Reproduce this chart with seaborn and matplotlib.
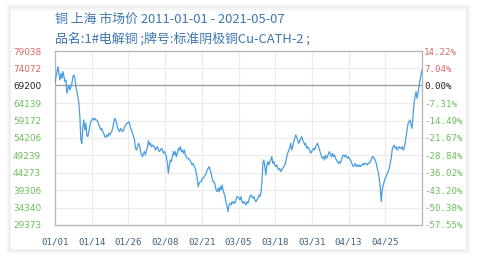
import matplotlib
matplotlib.use("Agg")
import matplotlib.pyplot as plt
from matplotlib.patches import Rectangle
import numpy as np
import pandas as pd
import seaborn as sns

title_line1 = "铜 上海 市场价 2011-01-01 - 2021-05-07"
title_line2 = "品名:1#电解铜 ;牌号:标准阴极铜Cu-CATH-2 ;"

base_price = 69200
left_ticks = [79038, 74072, 69200, 64139, 59172, 54206, 49239, 44273, 39306, 34340, 29373]
right_labels = ["14.22%", "7.04%", "0.00%", "-7.31%", "-14.49%", "-21.67%",
                "-28.84%", "-36.02%", "-43.20%", "-50.38%", "-57.55%"]
x_labels = ["01/01", "01/14", "01/26", "02/08", "02/21", "03/05", "03/18", "03/31", "04/13", "04/25"]

prices_a = [69810, 71710, 73140, 74570, 72190, 70760, 72660, 71240, 73140, 71710, 70290, 70760,
            66960, 68380, 69330, 67910, 68860, 69810, 71710, 72190, 71240, 68860, 67430, 66000,
            64100, 60300, 53640, 52690, 57440, 59350, 56490, 58390, 55070, 54590, 56020, 57440,
            58870, 59350, 59820, 59350, 59820, 59350, 59350, 58870, 57920, 57440, 56490, 56970,
            56020, 55540, 54590, 54400, 55070, 54590, 55540, 55070, 55540, 56020, 56970, 58390,
            59820, 59350, 58390, 56970, 56490, 56020, 56970, 56490, 56020, 56490, 57440, 57920,
            58390, 58390, 58870, 58390, 56970, 56490, 55540, 54590, 53640, 51260, 50780, 51740,
            52690, 52210, 50310, 49360, 48880, 49830, 50310, 49360, 50780, 51740]
prices_b = [53450, 52210, 52690, 51740, 52210, 51740, 51740, 50780, 51260, 51740, 50780, 50310,
            50780, 51260, 50780, 49830, 50310, 49830, 48880, 46980, 44130, 46500, 47930, 47460,
            48880, 50310, 49360, 50310, 48880, 49830, 51260, 50780, 51740, 50310, 50780, 49830,
            50780, 49360, 48880, 48410, 48410, 47930, 47930, 46980, 46500, 46980, 46030, 45550,
            44130, 42700, 40320, 41270, 41750, 41750, 42700, 42700, 43170, 43650, 44130, 45080,
            45550, 46030, 45080, 44130, 42700, 41750, 41750, 40800, 39370, 38890, 39840, 38890,
            40320, 39370, 40800, 39370, 38420, 37470, 35560, 34610, 33190, 35090, 35560, 35090,
            36040, 35560, 36040, 35560, 36520, 37470, 37470, 36990]
prices_c = [36520, 37470, 36040, 35560, 36040, 35560, 35090, 36040, 35560, 36520, 37470, 37940,
            37470, 36990, 37470, 36520, 36040, 36520, 36990, 37940, 37470, 38420, 41270, 46980,
            47930, 46030, 43650, 46500, 47460, 46500, 47460, 47930, 48880, 46980, 47460, 46500,
            46030, 46500, 45550, 45080, 45550, 44600, 45080, 45550, 46030, 46500, 47460, 48880,
            49830, 50780, 51260, 52690, 50780, 51740, 53160, 54110, 55070, 54590, 53640, 52690,
            53160, 54110, 54590, 53640, 53160, 52210, 52690, 51260, 51740, 51260, 50780, 49830,
            50310, 50780, 51260, 50780, 51740, 52210, 52690, 51740, 50780, 49830, 48880, 48410,
            48880, 47930, 49360, 48410, 48880, 49830, 50310, 49360, 48880]
prices_d = [49830, 48880, 49360, 48410, 47930, 47460, 46980, 47460, 46980, 47930, 48880, 49360,
            48880, 49360, 48880, 48410, 48880, 48410, 47930, 47460, 46500, 46030, 46500, 46980,
            46030, 46500, 46030, 46500, 46030, 46500, 46500, 46980, 46500, 46980, 46980, 46500,
            46980, 46980, 47460, 47930, 48880, 48880, 48410, 47930, 46980, 45550, 44600, 42700,
            40320, 36040, 39370, 40800, 41750, 42700, 43170, 44130, 44600, 45550, 46980, 48410,
            50780, 51740, 52210, 51260, 51740, 50780, 51260, 51740, 51260, 51260, 51740, 50780,
            51260, 52690, 54590, 56490, 58390, 58870, 59350, 57920, 56970, 60770, 64100, 66000,
            67430, 65530, 66960, 68860, 70760, 72190, 73620]

prices = prices_a + prices_b + prices_c + prices_d
df = pd.DataFrame({"idx": np.arange(len(prices)), "price": prices})

sns.set_style("white")
plt.rcParams['font.family'] = ['Noto Sans CJK SC', 'DejaVu Sans']

W, H = 482, 261
fig = plt.figure(figsize=(W / 100, H / 100), dpi=100)
fig.patch.set_facecolor("white")

# card with soft shadow
for i, a in enumerate([0.012, 0.02, 0.03, 0.04]):
    off = (4 - i)
    fig.patches.append(Rectangle(((10 - off + 1) / W, (261 - 249 - off) / H),
                                 (455 + 2 * off) / W, (240 + 2 * off) / H,
                                 transform=fig.transFigure, facecolor="none",
                                 edgecolor=(0, 0, 0, a), linewidth=1.5, zorder=-10))
fig.patches.append(Rectangle((10 / W, (261 - 249) / H), 455 / W, 240 / H,
                             transform=fig.transFigure, facecolor="white",
                             edgecolor="#f2f2f2", linewidth=0.6, zorder=-9))

ax = fig.add_axes([55 / W, 36 / H, 367 / W, 174 / H])
ax.set_zorder(1)
ax.set_facecolor("white")
n = len(prices)
ax.set_xlim(0, n - 1)
ax.set_ylim(left_ticks[-1], left_ticks[0])

sns.lineplot(data=df, x="idx", y="price", ax=ax, color="#4a9ee0", linewidth=0.9, zorder=3)

xt = [i * (n - 1) / 10 for i in range(11)]
ax.set_xticks(xt)
ax.set_xticklabels(x_labels + [""], family="DejaVu Sans Mono", fontsize=6.6, color="#3f6380")
ax.set_yticks(left_ticks)
ax.set_yticklabels([f"{v}" for v in left_ticks], family="DejaVu Sans", fontsize=6.4)
for lab, v in zip(ax.get_yticklabels(), left_ticks):
    lab.set_color("#e06666" if v > base_price else ("#222222" if v == base_price else "#6cbf5c"))
ax.grid(True, color="#ececec", linewidth=0.8)
ax.tick_params(axis="both", length=0)
ax.tick_params(axis="y", pad=10)
ax.tick_params(axis="x", pad=9)
ax.axhline(base_price, color="#a0a0a0", linewidth=1.0, zorder=2)
ax.set_xlabel("")
ax.set_ylabel("")
for s in ax.spines.values():
    s.set_color("#b5b5b5")
    s.set_linewidth(0.9)

ax2 = ax.twinx()
ax2.set_zorder(2)
ax2.patch.set_visible(False)
ax2.set_ylim(ax.get_ylim())
ax2.set_yticks(left_ticks)
ax2.set_yticklabels(right_labels, family="DejaVu Sans Mono", fontsize=6.6)
for lab, v in zip(ax2.get_yticklabels(), left_ticks):
    lab.set_color("#e06666" if v > base_price else ("#222222" if v == base_price else "#6cbf5c"))
ax2.tick_params(axis="y", length=0, pad=1.5)
for s in ax2.spines.values():
    s.set_visible(False)

fig.text(55 / W, 1 - 19 / H, title_line1, fontsize=9.3, color="#3c76b0", va="center", ha="left")
fig.text(55 / W, 1 - 38.5 / H, title_line2, fontsize=9.3, color="#3c76b0", va="center", ha="left")

fig.savefig("out.png", dpi=100)
